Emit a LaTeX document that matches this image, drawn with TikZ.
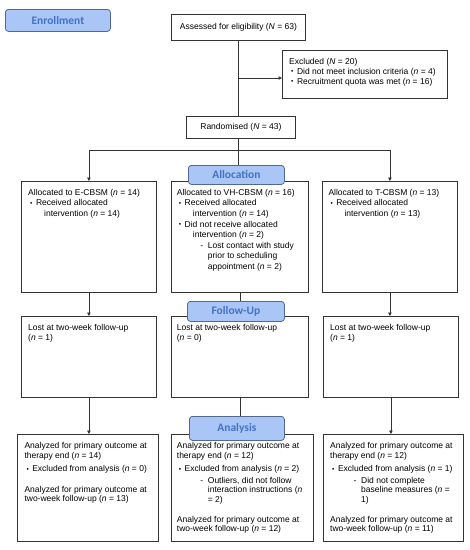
\documentclass[tikz,border=0pt]{standalone}
\usepackage{fontspec}
\setmainfont{Liberation Sans}
\newfontfamily\labfont{Carlito}
\usetikzlibrary{arrows.meta}
\definecolor{labfill}{HTML}{A9C6F7}
\definecolor{labdraw}{HTML}{50698C}
\definecolor{labtext}{HTML}{4472C4}
\definecolor{ln}{HTML}{333333}
\newcommand\bu{\hspace*{2pt}\makebox[5.8pt][l]{\raisebox{0.6pt}{\fontsize{6.5}{6.5}\selectfont •}}}
\newcommand\ind{\hspace*{16pt}}
\newcommand\da{\hspace*{23.5pt}\makebox[7.5pt][l]{-}}
\newcommand\dind{\hspace*{31pt}}
\newcommand\nn{\textit{n}}
\begin{document}
\begin{tikzpicture}[x=1pt,y=-1pt,
  box/.style={draw=ln, line width=0.8pt, fill=white, inner sep=0, anchor=north west},
  txt/.style={inner sep=0, anchor=north west, align=left, font=\fontsize{8.5}{10.6}\selectfont},
  txtf/.style={txt, font=\fontsize{8.5}{9.6}\selectfont},
  txta/.style={txt, font=\fontsize{8.5}{9.4}\selectfont},
  lab/.style={draw=labdraw, fill=labfill, rounded corners=3pt, line width=0.8pt, text=labtext, font=\labfont\bfseries\fontsize{11.5}{12}\selectfont, anchor=north west, inner sep=0},
  conn/.style={draw=ln, line width=0.8pt},
  arr/.style={conn, -{Triangle[length=3.5pt,width=3.5pt]}}]
\useasboundingbox (0,0) rectangle (470,550);

% boxes
\node[box, minimum width=134, minimum height=26, font=\fontsize{8.5}{10.6}\selectfont] (ass) at (171,14) {Assessed for eligibility (\textit{N} = 63)};
\node[box, minimum width=165, minimum height=48] (exc) at (282,50) {};
\node[box, minimum width=109, minimum height=22, font=\fontsize{8.5}{10.6}\selectfont] (rand) at (186,116) {Randomised (\textit{N} = 43)};

\node[box, minimum width=135, minimum height=111] (ea) at (21,181) {};
\node[box, minimum width=137, minimum height=111] (va) at (171,181) {};
\node[box, minimum width=135, minimum height=111] (ta) at (322,181) {};

\node[box, minimum width=135, minimum height=81] (ef) at (21,316) {};
\node[box, minimum width=137, minimum height=81] (vf) at (171,316) {};
\node[box, minimum width=135, minimum height=81] (tf) at (323,316) {};

\node[box, minimum width=141, minimum height=107] (en) at (17,434) {};
\node[box, minimum width=142, minimum height=107] (vn) at (171,434) {};
\node[box, minimum width=140, minimum height=107] (tn) at (323,434) {};

% texts
\node[txt, font=\fontsize{8.5}{10}\selectfont] (exct) at ([shift={(7pt,-7.9pt)}]exc.north west) {Excluded (\textit{N} = 20)\\
\bu Did not meet inclusion criteria (\nn{} = 4)\\
\bu Recruitment quota was met (\nn{} = 16)};

\node[txt] (eat) at ([shift={(7pt,-8pt)}]ea.north west) {Allocated to E-CBSM (\nn{} = 14)\\
\bu Received allocated\\
\ind intervention (\nn{} = 14)};
\node[txt] (vat) at ([shift={(5.7pt,-8pt)}]va.north west) {Allocated to VH-CBSM (\nn{} = 16)\\
\bu Received allocated\\
\ind intervention (\nn{} = 14)\\
\bu Did not receive allocated\\
\ind intervention (\nn{} = 2)\\
\da Lost contact with study\\
\dind prior to scheduling\\
\dind appointment (\nn{} = 2)};
\node[txt] (tat) at ([shift={(6.3pt,-8pt)}]ta.north west) {Allocated to T-CBSM (\nn{} = 13)\\
\bu Received allocated\\
\ind intervention (\nn{} = 13)};

\node[txtf] (eft) at ([shift={(7pt,-8.2pt)}]ef.north west) {Lost at two-week follow-up\\(\nn{} = 1)};
\node[txtf] (vft) at ([shift={(5.7pt,-8.2pt)}]vf.north west) {Lost at two-week follow-up\\(\nn{} = 0)};
\node[txtf] (tft) at ([shift={(7pt,-8.2pt)}]tf.north west) {Lost at two-week follow-up\\(\nn{} = 1)};

\node[txta] (ent) at ([shift={(7.3pt,-8.6pt)}]en.north west) {Analyzed for primary outcome at\\
therapy end (\nn{} = 14)\\[3.9pt]
\bu Excluded from analysis (\nn{} = 0)\\[11.2pt]
Analyzed for primary outcome at\\
two-week follow-up (\nn{} = 13)};
\node[txta] (vnt) at ([shift={(5.7pt,-8.6pt)}]vn.north west) {Analyzed for primary outcome at\\
therapy end (\nn{} = 12)\\[4pt]
\bu Excluded from analysis (\nn{} = 2)\\[1.9pt]
\da Outliers, did not follow\\
\dind interaction instructions (\nn\\[0.6pt]
\dind = 2)\\[10.6pt]
Analyzed for primary outcome at\\
two-week follow-up (\nn{} = 12)};
\node[txta] (tnt) at ([shift={(7pt,-8.6pt)}]tn.north west) {Analyzed for primary outcome at\\
therapy end (\nn{} = 12)\\[4pt]
\bu Excluded from analysis (\nn{} = 1)\\[1.9pt]
\da Did not complete\\
\dind baseline measures (\nn{} =\\[0.6pt]
\dind 1)\\[10.6pt]
Analyzed for primary outcome at\\
two-week follow-up (\nn{} = 11)};

% phase labels
\node[lab, minimum width=105, minimum height=22] (elab) at (5,9) {Enrollment};
\node[lab, minimum width=96, minimum height=19] (alab) at (188,165) {Allocation};
\node[lab, minimum width=97, minimum height=20] (flab) at (187,301) {Follow-Up};
\node[lab, minimum width=95, minimum height=24] (nlab) at (189,416) {Analysis};

% connectors
\coordinate (j1) at (238,78);
\coordinate (j2) at (238,150);
\draw[conn] (ass.south) -- (ass.south |- rand.north);
\draw[arr] (j1) -- (j1 -| exc.west);
\draw[conn] (j2 |- rand.south) -- (j2 |- alab.north);
\draw[conn] (ea.north |- j2) -- (ta.north |- j2);
\draw[arr] (ea.north |- j2) -- (ea.north);
\draw[arr] (ta.north |- j2) -- (ta.north);
\draw[arr] (ea.south) -- (ef.north);
\draw[conn] (va.south) -- (va.south |- flab.north);
\draw[arr] (ta.south) -- (ta.south |- tf.north);
\draw[arr] (ef.south) -- (ef.south |- en.north);
\draw[conn] (vf.south) -- (vf.south |- nlab.north);
\draw[arr] (tf.south) -- (tf.south |- tn.north);
\end{tikzpicture}
\end{document}
